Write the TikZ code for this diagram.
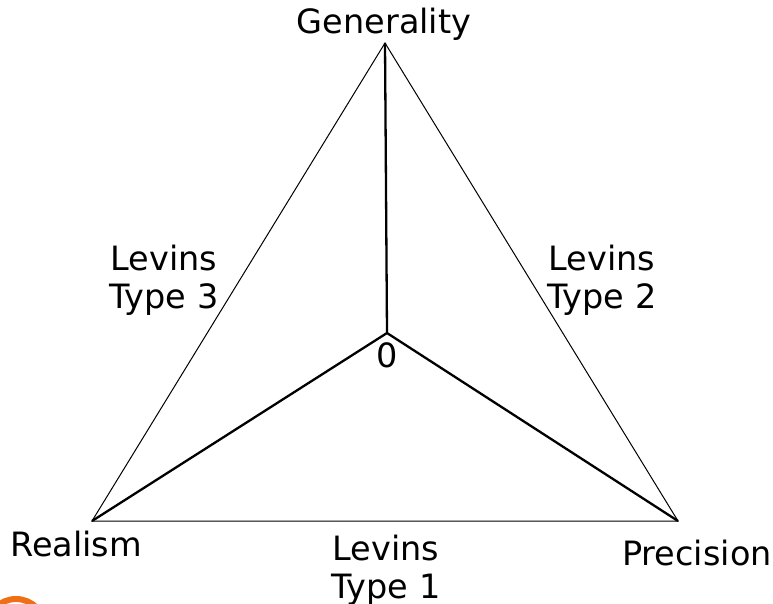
\documentclass[tikz,border=0pt]{standalone}
\usepackage{fontspec}
\setmainfont{DejaVu Sans}
\definecolor{logoorange}{RGB}{240,110,20}
\begin{document}
\begin{tikzpicture}[x=1pt,y=-1pt,
  lbl/.style={inner sep=0pt, font=\fontsize{33.5}{38}\selectfont, align=center},
  thin edge/.style={line width=1pt},
  thick edge/.style={line width=2.3pt, line join=miter}]
\useasboundingbox (0,0) rectangle (773,603);
\begin{scope}
\clip (0,0) rectangle (773,603);
\draw[logoorange, line width=6pt] (16,628) circle[radius=29];
\end{scope}
\coordinate (G) at (385,43);
\coordinate (R) at (92,521);
\coordinate (P) at (678,521);
\coordinate (O) at (387,333);
\draw[thin edge] (G) -- (R) -- (P) -- cycle;
\draw[thick edge] (G) -- (O);
\draw[thick edge] (R) -- (O) -- (P);
\node[lbl, anchor=base] (gen) at (384,33) {Generality};
\node[lbl, anchor=base] (rea) at (76,556) {Realism};
\node[lbl, anchor=base] (pre) at (697,565) {Precision};
\node[lbl, anchor=base] (zero) at (387,367) {0};
\node[lbl, anchor=north] (t3) at (164,245) {Levins\\Type 3};
\node[lbl, anchor=north] (t2) at (602,245) {Levins\\Type 2};
\node[lbl, anchor=north] (t1) at (386,535) {Levins\\Type 1};
\end{tikzpicture}
\end{document}
